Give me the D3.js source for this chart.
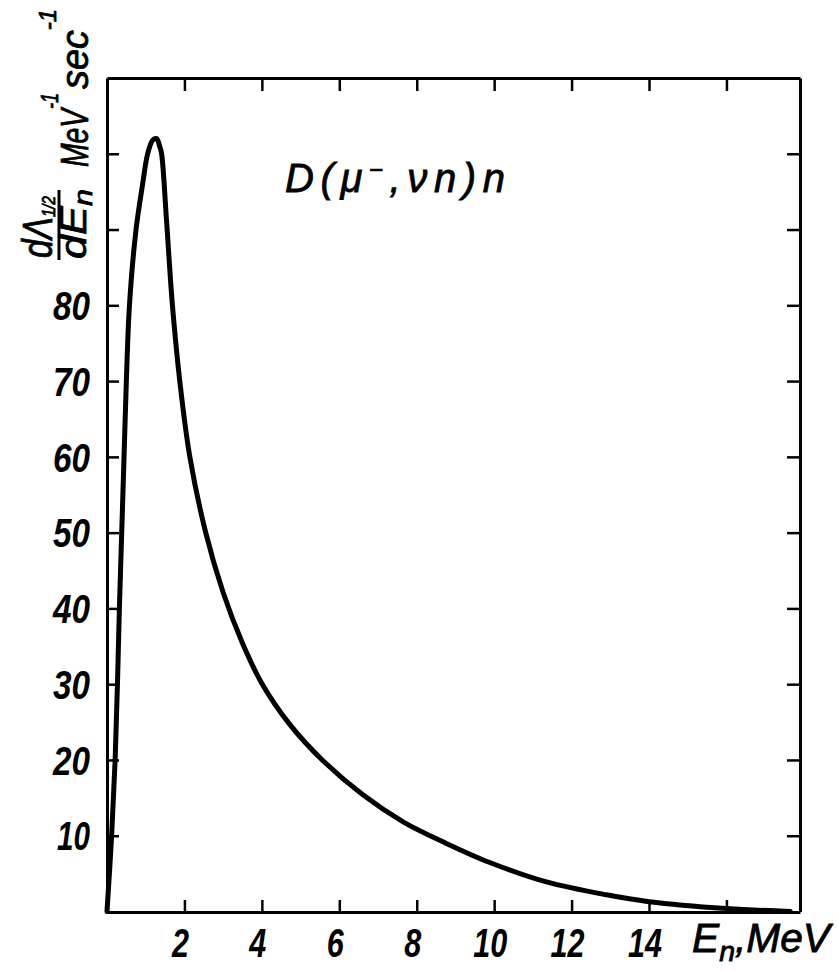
<!DOCTYPE html>
<html>
<head>
<meta charset="utf-8">
<script src="https://cdn.jsdelivr.net/npm/d3@7"></script>
<style>
  body { margin: 0; background: #fff; }
  text { fill: #000; }
</style>
</head>
<body>
<script>
// neutron energy (MeV) and spectrum values
const energy = [0, 0.12, 0.21, 0.27, 0.32, 0.38, 0.44, 0.5, 0.58, 0.75, 0.92, 1.05, 1.18, 1.28,
    1.36, 1.41, 1.54, 1.69, 1.88, 2.14, 2.55, 3.0, 3.5, 4.0, 4.72, 5.56, 6.61, 7.66, 8.72,
    9.87, 11.35, 12.9, 14.0, 16.0, 17.65];
const rate = [0, 10, 20, 30, 40, 50, 60, 70, 80, 90, 96, 100, 101.8, 102,
    101, 100, 91, 80, 70, 60, 50, 42.1, 35.4, 30.1, 24.7, 20.0, 15.4, 11.8, 9.1,
    6.5, 3.9, 2.2, 1.3, 0.4, 0];

const xTicks = [2, 4, 6, 8, 10, 12, 14, 16];
const xTickLabels = ["2", "4", "6", "8", "10", "12", "14"];
const yTicks = [10, 20, 30, 40, 50, 60, 70, 80, 90, 100];
const yTickLabels = ["10", "20", "30", "40", "50", "60", "70", "80"];

const W = 839, H = 971;
const plotLeft = 107, plotRight = 800, plotTop = 78, plotBottom = 912;
const font = "'Liberation Sans', Arial, sans-serif";

const svg = d3.select("body").append("svg")
    .attr("width", W)
    .attr("height", H);

const x = d3.scaleLinear().domain([0, 17.9]).range([plotLeft, plotRight]);
const y = d3.scaleLinear().domain([0, 110]).range([911.5, plotTop]);

// frame with inward ticks on all four sides
function styleAxis(g) {
    g.select(".domain").attr("stroke", "#000").attr("stroke-width", 3);
    g.selectAll(".tick line").attr("stroke", "#000").attr("stroke-width", 2.5);
    g.selectAll(".tick text").remove();
}

svg.append("g")
    .attr("transform", `translate(0,${plotBottom})`)
    .call(d3.axisBottom(x).tickValues(xTicks).tickSizeInner(-12).tickSizeOuter(0))
    .call(styleAxis);

svg.append("g")
    .attr("transform", `translate(0,${plotTop})`)
    .call(d3.axisTop(x).tickValues(xTicks).tickSizeInner(-13).tickSizeOuter(0))
    .call(styleAxis);

svg.append("g")
    .attr("transform", `translate(${plotLeft},0)`)
    .call(d3.axisLeft(y).tickValues(yTicks).tickSizeInner(-12).tickSizeOuter(0))
    .call(styleAxis);

svg.append("g")
    .attr("transform", `translate(${plotRight},0)`)
    .call(d3.axisRight(y).tickValues(yTicks).tickSizeInner(-13).tickSizeOuter(0))
    .call(styleAxis);

// tick labels (condensed with textLength, the lettering is narrow)
svg.append("g").selectAll("text")
    .data(xTickLabels)
    .join("text")
    .attr("x", d => x(+d) - 4)
    .attr("y", 957)
    .attr("text-anchor", "middle")
    .attr("font-family", font)
    .attr("font-weight", "bold")
    .attr("font-style", "italic")
    .attr("font-size", 41)
    .attr("textLength", d => d.length * 17)
    .attr("lengthAdjust", "spacingAndGlyphs")
    .text(d => d);

svg.append("g").selectAll("text")
    .data(yTickLabels)
    .join("text")
    .attr("x", 90)
    .attr("y", d => y(+d))
    .attr("dy", "0.36em")
    .attr("text-anchor", "end")
    .attr("font-family", font)
    .attr("font-weight", "bold")
    .attr("font-style", "italic")
    .attr("font-size", 41)
    .attr("textLength", d => d[0] === "1" ? 33 : 37)
    .attr("lengthAdjust", "spacingAndGlyphs")
    .text(d => d);

// x axis title
const xt = svg.append("text")
    .attr("x", 692)
    .attr("y", 952)
    .attr("font-family", font)
    .attr("font-style", "italic")
    .attr("font-size", 40)
    .attr("stroke", "#000")
    .attr("stroke-width", 0.8)
    .attr("textLength", 138)
    .attr("lengthAdjust", "spacingAndGlyphs");
xt.append("tspan").text("E");
xt.append("tspan").attr("dy", 9).attr("font-size", 28).text("n");
xt.append("tspan").attr("dy", -9).text(",MeV");

// y axis title, rotated
const yt = svg.append("g")
    .attr("transform", "translate(88,262) rotate(-90)")
    .attr("font-family", font)
    .attr("font-style", "italic")
    .attr("stroke", "#000")
    .attr("stroke-width", 0.8);

const num = yt.append("text").attr("x", 4).attr("y", -36).attr("font-size", 42)
    .attr("textLength", 62).attr("lengthAdjust", "spacingAndGlyphs");
num.append("tspan").text("dΛ");
num.append("tspan").attr("dy", 3).attr("font-size", 19).text("1/2");

yt.append("line")
    .attr("x1", 2).attr("x2", 72)
    .attr("y1", -29).attr("y2", -29)
    .attr("stroke", "#000")
    .attr("stroke-width", 3);

const den = yt.append("text").attr("x", 3).attr("y", -2).attr("font-size", 37)
    .attr("textLength", 70).attr("lengthAdjust", "spacingAndGlyphs");
den.append("tspan").text("dE");
den.append("tspan").attr("dy", 6).attr("font-size", 26).text("n");

const mev = yt.append("text").attr("x", 95).attr("y", 0).attr("font-size", 38)
    .attr("textLength", 74).attr("lengthAdjust", "spacingAndGlyphs");
mev.append("tspan").text("MeV");
mev.append("tspan").attr("dy", -30).attr("font-size", 24).text("-1");

const sec = yt.append("text").attr("x", 173).attr("y", 0).attr("font-size", 38)
    .attr("textLength", 80).attr("lengthAdjust", "spacingAndGlyphs");
sec.append("tspan").text("sec");
sec.append("tspan").attr("dy", -32).attr("font-size", 24).text("-1");

// reaction label
const lab = svg.append("text")
    .attr("x", 285)
    .attr("y", 192)
    .attr("font-family", font)
    .attr("font-style", "italic")
    .attr("font-size", 40)
    .attr("stroke", "#000")
    .attr("stroke-width", 0.8)
    .attr("textLength", 220)
    .attr("lengthAdjust", "spacing");
lab.append("tspan").text("D(μ");
lab.append("tspan").attr("dy", -14).attr("font-size", 24).text("−");
lab.append("tspan").attr("dy", 14).text(",νn)n");

// spectrum curve
const pts = energy.map((e, i) => [e, rate[i]]);
const line = d3.line()
    .x(d => x(d[0]))
    .y(d => y(d[1]))
    .curve(d3.curveCatmullRom.alpha(0.5));

svg.append("path")
    .datum(pts)
    .attr("d", line)
    .attr("fill", "none")
    .attr("stroke", "#000")
    .attr("stroke-width", 5)
    .attr("stroke-linejoin", "round")
    .attr("stroke-linecap", "round");
</script>
</body>
</html>
